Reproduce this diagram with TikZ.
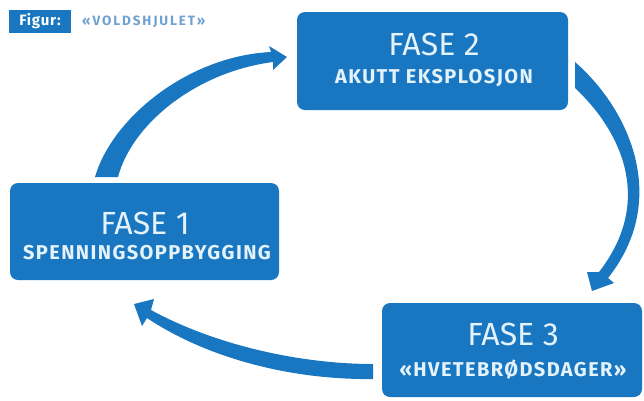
\documentclass[tikz,border=0pt]{standalone}
\usepackage{fontspec}
\setmainfont{Fira Sans}
\newfontfamily\subfont[LetterSpace=7]{Fira Sans}
\newfontfamily\capfont[LetterSpace=14]{Fira Sans}
\newfontfamily\figfont[LetterSpace=5]{Fira Sans}
\definecolor{fblue}{HTML}{1877C0}
\definecolor{ftext}{HTML}{E4F2FB}
\definecolor{flight}{HTML}{6FA2D2}
\tikzset{
  phase/.style={fill=fblue, rounded corners=8pt},
  head/.style={text=ftext, font=\fontsize{32}{34}\selectfont, inner sep=0pt},
  sub/.style={text=ftext, font=\subfont\bfseries\fontsize{20}{22}\selectfont, inner sep=0pt},
  arr/.style={fill=fblue}
}
\begin{document}
\begin{tikzpicture}[x=1pt,y=-1pt]
\useasboundingbox (0,0) rectangle (644,400);
% caption
\fill[fblue] (9,10) rectangle (71,33);
\node[text=white, font=\figfont\bfseries\fontsize{15}{16}\selectfont, inner sep=0pt] (fig) at (40,21.5) {Figur:};
\node[text=flight, font=\capfont\bfseries\fontsize{13.5}{14}\selectfont, inner sep=0pt, anchor=west] (title) at (82,21.5) {«VOLDSHJULET»};
% boxes
\fill[phase] (297,12) rectangle (568,110);
\fill[phase] (10,183) rectangle (279,280);
\fill[phase] (382,303) rectangle (642,397);
\node[head] (h2) at (434,44) {FASE 2};
\node[sub] (s2) at (434,78) {AKUTT EKSPLOSJON};
\node[head] (h1) at (145,223) {FASE 1};
\node[sub] (s1) at (147,253) {SPENNINGSOPPBYGGING};
\node[head] (h3) at (513,334) {FASE 3};
\node[sub] (s3) at (513,370) {«HVETEBRØDSDAGER»};
% arrow 1 -> 2
\fill[arr] (95,177) .. controls (112,118) and (188,56) .. (271,52) -- (269,46) -- (287,57) -- (273,70) -- (273,62)
  .. controls (196,72) and (132,124) .. (118,177) -- cycle;
% arrow 2 -> 3
\fill[arr] (575,62) .. controls (630,110) and (670,200) .. (608,278) -- (614,283) -- (592,291) -- (587,272) -- (599,272)
  .. controls (655,200) and (620,130) .. (575,88) -- cycle;
% arrow 3 -> 1
\fill[arr] (373,364) .. controls (300,364) and (215,345) .. (151,310) -- (154,299) -- (134,304) -- (142,326) -- (147,318)
  .. controls (210,360) and (295,380) .. (373,379) -- cycle;
\end{tikzpicture}
\end{document}
